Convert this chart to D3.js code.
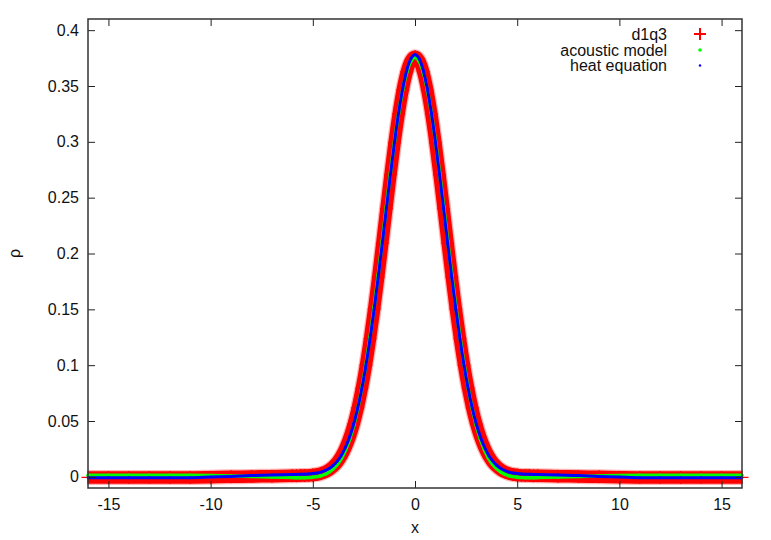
<!DOCTYPE html>
<html>
<head>
<meta charset="utf-8">
<script src="https://cdn.jsdelivr.net/npm/d3@7"></script>
<style>
  body { margin: 0; background: #fff; }
  text { font-family: "Liberation Sans", Arial, sans-serif; font-size: 16px; fill: #111; }
</style>
</head>
<body>
<script>
'use strict'

var width = 771
var height = 540
var margin = {left: 88, right: 29, top: 19, bottom: 52}

// sample positions: coarse in the flat tails, finer around the peak
var xTailLeft = [-16, -15, -14, -13, -12, -11, -10, -9, -8, -7]
var xCore = d3.range(-30, 31).map(function (i) { return i / 5 })
var xTailRight = [7, 8, 9, 10, 11, 12, 13, 14, 15, 16]
var xs = xTailLeft.concat(xCore, xTailRight)

// rho, one value per x above
var rhoD1q3 = [
  -0.0005, -0.0005, -0.0005, -0.0005, -0.0005, -0.0005, -0.0003, 0.0000, 0.0003, 0.0006,
  0.0009, 0.0010, 0.0011, 0.0012, 0.0013, 0.0016, 0.0021, 0.0030, 0.0043, 0.0063,
  0.0092, 0.0132, 0.0187, 0.0260, 0.0354, 0.0472, 0.0618, 0.0794, 0.1000, 0.1237,
  0.1501, 0.1788, 0.2091, 0.2401, 0.2706, 0.2993, 0.3250, 0.3465, 0.3628, 0.3728,
  0.3762,
  0.3728, 0.3628, 0.3465, 0.3250, 0.2993, 0.2706, 0.2401, 0.2091, 0.1788, 0.1501,
  0.1237, 0.1000, 0.0794, 0.0618, 0.0472, 0.0354, 0.0260, 0.0187, 0.0132, 0.0092,
  0.0063, 0.0043, 0.0030, 0.0021, 0.0016, 0.0013, 0.0012, 0.0011, 0.0010, 0.0009,
  0.0006, 0.0003, 0.0000, -0.0003, -0.0005, -0.0005, -0.0005, -0.0005, -0.0005, -0.0005
]
var rhoAcoustic = [
  0.0014, 0.0014, 0.0014, 0.0014, 0.0014, 0.0014, 0.0012, 0.0008, 0.0003, -0.0002,
  -0.0007, -0.0008, -0.0008, -0.0008, -0.0006, -0.0003, 0.0002, 0.0010, 0.0023, 0.0043,
  0.0072, 0.0112, 0.0166, 0.0240, 0.0336, 0.0459, 0.0612, 0.0796, 0.1008, 0.1250,
  0.1518, 0.1808, 0.2112, 0.2422, 0.2725, 0.3008, 0.3258, 0.3468, 0.3625, 0.3722,
  0.3755,
  0.3722, 0.3625, 0.3468, 0.3258, 0.3008, 0.2725, 0.2422, 0.2112, 0.1808, 0.1518,
  0.1250, 0.1008, 0.0796, 0.0612, 0.0459, 0.0336, 0.0240, 0.0166, 0.0112, 0.0072,
  0.0043, 0.0023, 0.0010, 0.0002, -0.0003, -0.0006, -0.0008, -0.0008, -0.0008, -0.0007,
  -0.0002, 0.0003, 0.0008, 0.0012, 0.0014, 0.0014, 0.0014, 0.0014, 0.0014, 0.0014
]
var rhoHeat = [
  -0.0008, -0.0008, -0.0008, -0.0008, -0.0008, -0.0008, -0.0002, 0.0004, 0.0011, 0.0017,
  0.0021, 0.0022, 0.0023, 0.0024, 0.0026, 0.0029, 0.0034, 0.0042, 0.0055, 0.0074,
  0.0102, 0.0141, 0.0194, 0.0265, 0.0357, 0.0473, 0.0617, 0.0791, 0.0997, 0.1234,
  0.1498, 0.1786, 0.2090, 0.2402, 0.2709, 0.2999, 0.3260, 0.3478, 0.3643, 0.3745,
  0.3780,
  0.3745, 0.3643, 0.3478, 0.3260, 0.2999, 0.2709, 0.2402, 0.2090, 0.1786, 0.1498,
  0.1234, 0.0997, 0.0791, 0.0617, 0.0473, 0.0357, 0.0265, 0.0194, 0.0141, 0.0102,
  0.0074, 0.0055, 0.0042, 0.0034, 0.0029, 0.0026, 0.0024, 0.0023, 0.0022, 0.0021,
  0.0017, 0.0011, 0.0004, -0.0002, -0.0008, -0.0008, -0.0008, -0.0008, -0.0008, -0.0008
]

var seriesNames = ["d1q3", "acoustic model", "heat equation"]
var xTicks = [-15, -10, -5, 0, 5, 10, 15]
var yTicks = [0, 0.05, 0.1, 0.15, 0.2, 0.25, 0.3, 0.35, 0.4]

var x = d3.scaleLinear().domain([-16, 16]).range([margin.left, width - margin.right])
var y = d3.scaleLinear().domain([-0.01, 0.41]).range([height - margin.bottom, margin.top])

function toPoints(vals) {
  return vals.map(function (v, i) { return [xs[i], v] })
}

var line = d3.line()
  .x(function (d) { return x(d[0]) })
  .y(function (d) { return y(d[1]) })
  .curve(d3.curveMonotoneX)

var svg = d3.select("body").append("svg")
  .attr("width", width)
  .attr("height", height)

drawChart()

function drawChart() {
  addD1q3(toPoints(rhoD1q3))
  addAcoustic(toPoints(rhoAcoustic))
  addHeat(toPoints(rhoHeat))
  addAxes()
  addLegend()
}

function plusPath(cx, cy, s) {
  return "M" + (cx - s) + "," + cy + "H" + (cx + s) + "M" + cx + "," + (cy - s) + "V" + (cy + s)
}

function addD1q3(pts) {
  var g = svg.append("g")
  // the crosses sit so close together that they merge into a band
  g.append("path").datum(pts)
    .attr("d", line)
    .attr("fill", "none")
    .attr("stroke", "#ffb4b4")
    .attr("stroke-width", 15)
  g.append("path").datum(pts)
    .attr("d", line)
    .attr("fill", "none")
    .attr("stroke", "#ff0000")
    .attr("stroke-width", 12.5)
  g.selectAll("path.pt")
    .data(pts)
    .enter()
    .append("path")
    .attr("class", "pt")
    .attr("d", function (d) { return plusPath(x(d[0]), y(d[1]), 6.5) })
    .attr("stroke", "#ff0000")
    .attr("stroke-width", 1.3)
}

function addAcoustic(pts) {
  var g = svg.append("g")
  g.append("path").datum(pts)
    .attr("d", line)
    .attr("fill", "none")
    .attr("stroke", "#00ff00")
    .attr("stroke-width", 3.5)
  g.selectAll("circle")
    .data(pts)
    .enter()
    .append("circle")
    .attr("cx", function (d) { return x(d[0]) })
    .attr("cy", function (d) { return y(d[1]) })
    .attr("r", 1.8)
    .attr("fill", "#00ff00")
}

function addHeat(pts) {
  var g = svg.append("g")
  g.append("path").datum(pts)
    .attr("d", line)
    .attr("fill", "none")
    .attr("stroke", "#0000ff")
    .attr("stroke-width", 3)
  g.selectAll("circle")
    .data(pts)
    .enter()
    .append("circle")
    .attr("cx", function (d) { return x(d[0]) })
    .attr("cy", function (d) { return y(d[1]) })
    .attr("r", 1.4)
    .attr("fill", "#0000ff")
}

function addAxes() {
  var bottom = height - margin.bottom
  var right = width - margin.right
  var fmt = function (d) { return String(+d.toFixed(2)) }

  var gx = svg.append("g")
    .attr("transform", "translate(0," + bottom + ")")
    .call(d3.axisBottom(x).tickValues(xTicks).tickFormat(fmt).tickSizeInner(-7).tickSizeOuter(0).tickPadding(10.5))
  var gy = svg.append("g")
    .attr("transform", "translate(" + margin.left + ",0)")
    .call(d3.axisLeft(y).tickValues(yTicks).tickFormat(fmt).tickSizeInner(-7).tickSizeOuter(0).tickPadding(9))
  var gt = svg.append("g")
    .attr("transform", "translate(0," + margin.top + ")")
    .call(d3.axisTop(x).tickValues(xTicks).tickFormat("").tickSizeInner(-7).tickSizeOuter(0))
  var gr = svg.append("g")
    .attr("transform", "translate(" + right + ",0)")
    .call(d3.axisRight(y).tickValues(yTicks).tickFormat("").tickSizeInner(-7).tickSizeOuter(0))

  ;[gx, gy, gt, gr].forEach(function (g) {
    g.select(".domain").remove()
    g.selectAll("line").attr("stroke", "#222")
    g.selectAll("text").attr("fill", "#111").style("font-size", "16px")
      .style("font-family", "'Liberation Sans', Arial, sans-serif")
  })

  svg.append("rect")
    .attr("x", margin.left)
    .attr("y", margin.top)
    .attr("width", right - margin.left)
    .attr("height", bottom - margin.top)
    .attr("fill", "none")
    .attr("stroke", "#333")
    .attr("stroke-width", 1.5)

  svg.append("text")
    .attr("x", (margin.left + right) / 2)
    .attr("y", 533)
    .attr("text-anchor", "middle")
    .text("x")

  svg.append("text")
    .attr("transform", "translate(20," + ((margin.top + bottom) / 2) + ") rotate(-90)")
    .attr("text-anchor", "middle")
    .text("ρ")
}

function addLegend() {
  var rows = [39.5, 55.5, 71]
  var mx = 700
  var lg = svg.append("g")
  lg.selectAll("text")
    .data(seriesNames)
    .enter()
    .append("text")
    .attr("x", 667)
    .attr("y", function (d, i) { return rows[i] })
    .attr("text-anchor", "end")
    .text(function (d) { return d })

  lg.append("path")
    .attr("d", plusPath(mx, rows[0] - 5.5, 6))
    .attr("stroke", "#ff0000")
    .attr("stroke-width", 2)
  lg.append("circle")
    .attr("cx", mx).attr("cy", rows[1] - 5.5)
    .attr("r", 1.8)
    .attr("fill", "#00ff00")
  lg.append("circle")
    .attr("cx", mx).attr("cy", rows[2] - 5.5)
    .attr("r", 1.2)
    .attr("fill", "#0000ff")
}
</script>
</body>
</html>
